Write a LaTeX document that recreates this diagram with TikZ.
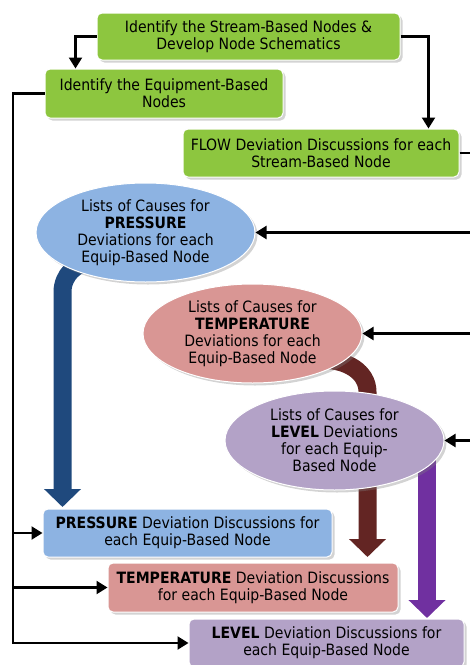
\documentclass[tikz,border=0pt]{standalone}
\usepackage{fontspec}
\setmainfont{DejaVu Sans Condensed}
\usepackage{tikz}
\usetikzlibrary{shapes.geometric, shadows, arrows.meta}

\definecolor{boxgreen}{HTML}{8DC63F}
\definecolor{lblue}{HTML}{8DB3E2}
\definecolor{lred}{HTML}{D99694}
\definecolor{lpurple}{HTML}{B3A2C7}
\definecolor{dblue}{HTML}{1F497D}
\definecolor{dred}{HTML}{632523}
\definecolor{dpurple}{HTML}{7030A0}

\tikzset{
  stepbox/.style={rectangle, rounded corners=5pt, draw=white, line width=1pt,
    inner sep=0pt, align=center,
    drop shadow={opacity=0.35, shadow xshift=2.5pt, shadow yshift=-2.5pt}},
  causes/.style={ellipse, draw=white, line width=1pt, inner sep=0pt,
    minimum width=219pt, minimum height=99pt, align=center,
    drop shadow={opacity=0.35, shadow xshift=2.5pt, shadow yshift=-2.5pt}},
  arr/.style={line width=2.2pt, -{Triangle[length=11pt,width=13pt]}},
  band/.style={line width=18pt, -{Triangle[length=18pt,width=36pt]}},
}

\begin{document}
\begin{tikzpicture}[x=1pt, y=-1pt, font=\fontsize{15.6}{17}\selectfont]
        \useasboundingbox (0,0) rectangle (470,665);
        \clip (0,0) rectangle (470,665);
        \coordinate (edge) at (485,0);
        \coordinate (bus) at (13,0);

         % thick bands, behind the ellipses
        \draw[band, dblue] (92,262) to[out=180, in=90] (62.5,292) -- (62.5,507);
        \draw[band, dred] (325,360) to[out=0, in=90] (367.5,392) -- (367.5,557);
        \draw[band, dpurple] (427,450) -- (427,618);

         % green boxes
        \node[stepbox, fill=boxgreen, minimum width=303pt, minimum height=47pt]
          (stream) at (248.5,36.5) {Identify the Stream-Based Nodes \&\\Develop Node Schematics};
        \node[stepbox, fill=boxgreen, minimum width=238pt, minimum height=49pt]
          (equip) at (164,93.5) {Identify the Equipment-Based\\Nodes};
        \node[stepbox, fill=boxgreen, minimum width=276pt, minimum height=48pt]
          (flow) at (321,153) {FLOW Deviation Discussions for each\\Stream-Based Node};

         % lists of causes
        \node[causes, fill=lblue] (pcause) at (145.5,232.5)
          {Lists of Causes for\\\textbf{PRESSURE}\\Deviations for each\\Equip-Based Node};
        \node[causes, fill=lred] (tcause) at (252.5,333.5)
          {Lists of Causes for\\\textbf{TEMPERATURE}\\Deviations for each\\Equip-Based Node};
        \node[causes, fill=lpurple] (lcause) at (334.5,440.5)
          {Lists of Causes for\\\textbf{LEVEL} Deviations\\for each Equip-\\Based Node};

         % deviation discussions
        \node[stepbox, fill=lblue, minimum width=289pt, minimum height=48pt]
          (pdisc) at (187.5,533) {\textbf{PRESSURE} Deviation Discussions for\\each Equip-Based Node};
        \node[stepbox, fill=lred, minimum width=290pt, minimum height=49pt]
          (tdisc) at (253,587.5) {\textbf{TEMPERATURE} Deviation Discussions\\for each Equip-Based Node};
        \node[stepbox, fill=lpurple, minimum width=275pt, minimum height=48pt]
          (ldisc) at (326.5,643) {\textbf{LEVEL} Deviation Discussions for\\each Equip-Based Node};

         % top connectors
        \draw[arr] (stream.west) -| ([xshift=31pt]equip.north west);
        \draw[arr] (stream.east) -| ([xshift=-31pt]flow.north east);
        \draw[line width=2.2pt] (flow.east) -- (flow.east -| edge);

         % from the right edge
        \draw[arr] (pcause.east -| edge) -- (pcause.east);
        \draw[arr] (tcause.east -| edge) -- (tcause.east);
        \draw[arr] (lcause.east -| edge) -- (lcause.east);

         % left bus
        \draw[arr] (equip.west) -| (bus |- ldisc.west) -- (ldisc.west);
        \draw[arr] (bus |- pdisc.west) -- (pdisc.west);
        \draw[arr] (bus |- tdisc.west) -- (tdisc.west);
      \end{tikzpicture}
\end{document}
